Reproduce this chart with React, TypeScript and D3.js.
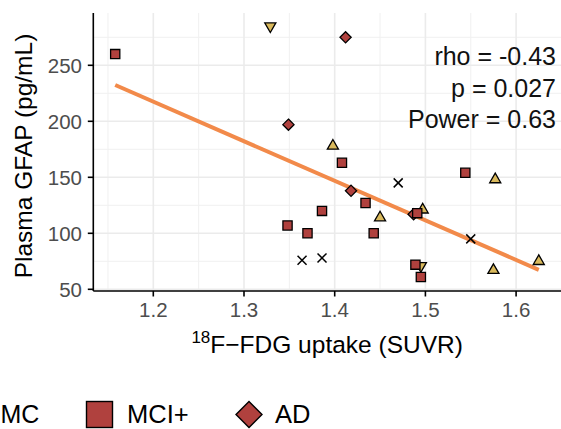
import React from 'react';
import * as d3 from 'd3';

const width = 561, height = 429;

// groups of points
const crossX = [1.364, 1.386, 1.470, 1.550];
const crossY = [76, 78, 145, 95];

const triUpX = [1.398, 1.450, 1.497, 1.577, 1.575, 1.625];
const triUpY = [178, 114, 121, 148, 67, 75];

const triDownX = [1.329, 1.495];
const triDownY = [285, 71];

const squareX = [1.158, 1.408, 1.434, 1.386, 1.348, 1.370, 1.443, 1.544, 1.491, 1.489, 1.495];
const squareY = [260, 163, 127, 120, 107, 100, 100, 154, 118, 72, 61];

const diamondX = [1.412, 1.349, 1.418, 1.487];
const diamondY = [275, 197, 138, 117];

// fitted line and stats
const fitSlope = -353.3;
const fitIntercept = 641.5;
const statLines = ['rho = -0.43', 'p = 0.027', 'Power = 0.63'];

const xTicks = [1.2, 1.3, 1.4, 1.5, 1.6];
const yTicks = [50, 100, 150, 200, 250];
const xMinor = [1.15, 1.25, 1.35, 1.45, 1.55, 1.65];
const yMinor = [75, 125, 175, 225, 275];

const red = '#b0413e', yellow = '#d9b95c', orange = '#f28a4a';
const font = 'Liberation Sans, Arial, Helvetica, sans-serif';

const panel = { left: 93.3, right: 561, top: 13, bottom: 291 };

const xScale = d3.scaleLinear().domain([1.2, 1.6]).range([153.3, 516.1]);
const yScale = d3.scaleLinear().domain([50, 250]).range([289.3, 65.3]);

const sym = (type: d3.SymbolType, size: number) => d3.symbol().type(type).size(size)() || '';
const squarePath = sym(d3.symbolSquare, 85);
const diamondPath = sym(d3.symbolDiamond2, 80);
const triPath = sym(d3.symbolTriangle2, 88);

export default function App() {
    const allX = [...crossX, ...triUpX, ...triDownX, ...squareX, ...diamondX];
    const ext = d3.extent(allX) as [number, number];
    const line = d3.line<number>()
        .x(d => xScale(d))
        .y(d => yScale(fitIntercept + fitSlope * d));

    return (
        <svg width={width} height={height} style={{ position: 'absolute', left: 0, top: 0 }} fontFamily={font}>
            <rect width={width} height={height} fill="white" />
            {/* grid */}
            {yMinor.map(v => <line key={'ym' + v} x1={panel.left} x2={panel.right} y1={yScale(v)} y2={yScale(v)} stroke="#f0f0f0" strokeWidth={1} />)}
            {xMinor.map(v => <line key={'xm' + v} y1={panel.top} y2={panel.bottom} x1={xScale(v)} x2={xScale(v)} stroke="#f0f0f0" strokeWidth={1} />)}
            {yTicks.map(v => <line key={'yg' + v} x1={panel.left} x2={panel.right} y1={yScale(v)} y2={yScale(v)} stroke="#ebebeb" strokeWidth={1.6} />)}
            {xTicks.map(v => <line key={'xg' + v} y1={panel.top} y2={panel.bottom} x1={xScale(v)} x2={xScale(v)} stroke="#ebebeb" strokeWidth={1.6} />)}

            {/* fit */}
            <path d={line(ext) || ''} stroke={orange} strokeWidth={4} fill="none" />

            {/* points */}
            {triUpX.map((x, i) => <path key={'tu' + i} d={triPath} transform={`translate(${xScale(x)},${yScale(triUpY[i])})`} fill={yellow} stroke="black" strokeWidth={1.3} />)}
            {triDownX.map((x, i) => <path key={'td' + i} d={triPath} transform={`translate(${xScale(x)},${yScale(triDownY[i])}) rotate(180)`} fill={yellow} stroke="black" strokeWidth={1.3} />)}
            {diamondX.map((x, i) => <path key={'d' + i} d={diamondPath} transform={`translate(${xScale(x)},${yScale(diamondY[i])})`} fill={red} stroke="black" strokeWidth={1.3} />)}
            {squareX.map((x, i) => <path key={'s' + i} d={squarePath} transform={`translate(${xScale(x)},${yScale(squareY[i])})`} fill={red} stroke="black" strokeWidth={1.3} />)}
            {crossX.map((x, i) => (
                <g key={'c' + i} transform={`translate(${xScale(x)},${yScale(crossY[i])})`} stroke="black" strokeWidth={1.5}>
                    <line x1={-4.5} y1={-4.5} x2={4.5} y2={4.5} />
                    <line x1={-4.5} y1={4.5} x2={4.5} y2={-4.5} />
                </g>
            ))}

            {/* axes */}
            <line x1={panel.left} x2={panel.left} y1={panel.top} y2={panel.bottom} stroke="black" strokeWidth={1.6} />
            <line x1={panel.left} x2={panel.right} y1={panel.bottom} y2={panel.bottom} stroke="black" strokeWidth={1.6} />
            {yTicks.map(v => (
                <g key={'yt' + v}>
                    <line x1={panel.left - 5.5} x2={panel.left} y1={yScale(v)} y2={yScale(v)} stroke="black" strokeWidth={1.6} />
                    <text x={82} y={yScale(v)} dy="0.36em" textAnchor="end" fontSize={20.5} fill="#4d4d4d">{v}</text>
                </g>
            ))}
            {xTicks.map(v => (
                <g key={'xt' + v}>
                    <line y1={panel.bottom} y2={panel.bottom + 5.5} x1={xScale(v)} x2={xScale(v)} stroke="black" strokeWidth={1.6} />
                    <text x={xScale(v)} y={317} textAnchor="middle" fontSize={20.5} fill="#4d4d4d">{v.toFixed(1)}</text>
                </g>
            ))}

            {/* titles */}
            <text x={(panel.left + panel.right) / 2} y={353} textAnchor="middle" fontSize={24.5} fill="black">
                <tspan fontSize={17} dy={-10}>18</tspan><tspan dy={10}>F−FDG uptake (SUVR)</tspan>
            </text>
            <text transform={`translate(32,${(panel.top + panel.bottom) / 2 + 4}) rotate(-90)`} textAnchor="middle" fontSize={24.5} fill="black">Plasma GFAP (pg/mL)</text>

            {/* stats */}
            {statLines.map((s, i) => (
                <text key={s} x={556} y={65 + i * 31.6} textAnchor="end" fontSize={25} fill="#111">{s}</text>
            ))}

            {/* legend (left part cropped in the original) */}
            <text x={0.5} y={423} fontSize={25} fill="black">MC</text>
            <rect x={86.5} y={401.5} width={26} height={26} fill={red} stroke="black" strokeWidth={1.4} />
            <text x={127} y={423} fontSize={25.5} fill="black">MCI+</text>
            <path d={sym(d3.symbolDiamond2, 430)} transform="translate(249,414.5)" fill={red} stroke="black" strokeWidth={1.4} />
            <text x={275} y={423} fontSize={25.5} fill="black">AD</text>
        </svg>
    );
}
